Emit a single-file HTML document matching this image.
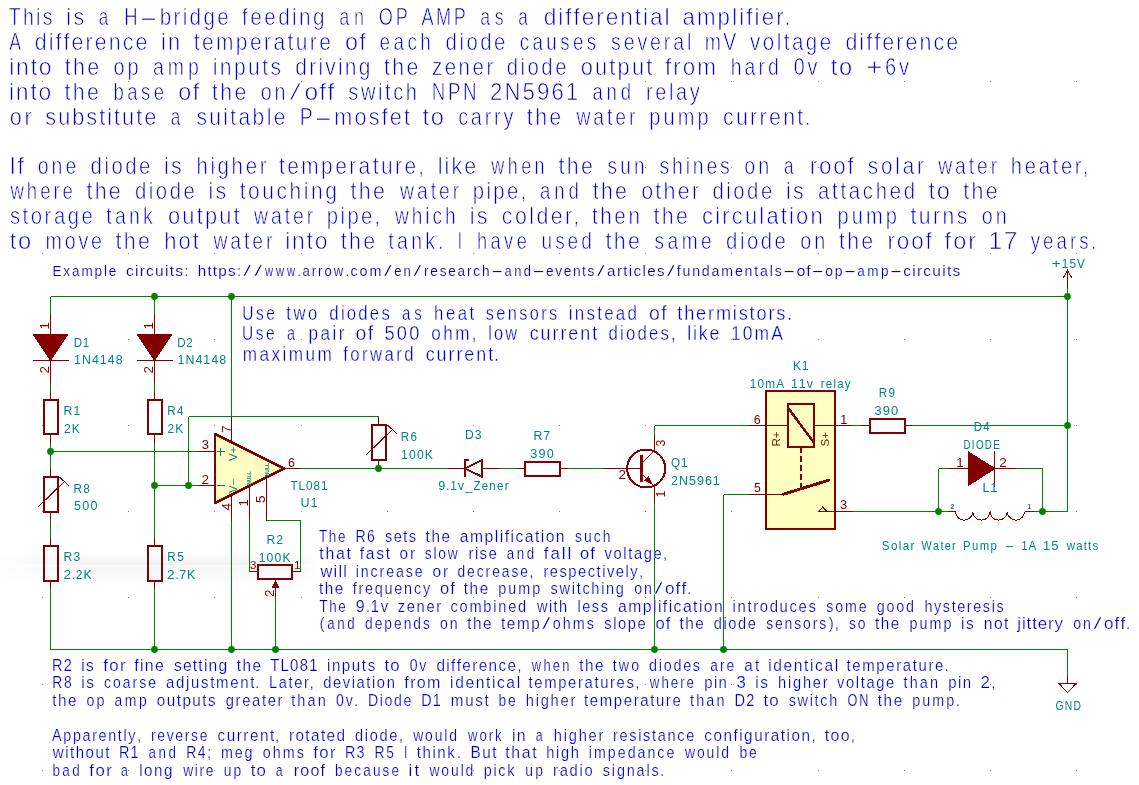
<!DOCTYPE html>
<html><head><meta charset="utf-8"><title>Solar pump differential controller</title>
<style>
html,body{margin:0;padding:0;background:#fff;}
body{width:1139px;height:785px;overflow:hidden;position:relative;font-family:"Liberation Sans",sans-serif;}
svg{will-change:transform;position:absolute;left:0;top:0;display:block}
svg text{font-family:"Liberation Sans",sans-serif;font-kerning:none;white-space:pre;stroke:#fff;paint-order:fill stroke;}
.w{stroke:#008400;stroke-width:1;fill:none;shape-rendering:crispEdges}
.p{stroke:#840000;stroke-width:1;fill:none;shape-rendering:crispEdges}
.j{fill:#008400;stroke:none}
</style></head><body>
<svg width="1139" height="785" viewBox="0 0 1139 785">
<path d="M42 81h1v1h-1zM42 167h1v1h-1zM42 253h1v1h-1zM42 339h1v1h-1zM42 425h1v1h-1zM42 511h1v1h-1zM42 597h1v1h-1zM42 684h1v1h-1zM42 770h1v1h-1zM128 81h1v1h-1zM128 167h1v1h-1zM128 253h1v1h-1zM128 339h1v1h-1zM128 425h1v1h-1zM128 511h1v1h-1zM128 597h1v1h-1zM128 684h1v1h-1zM128 770h1v1h-1zM214 81h1v1h-1zM214 167h1v1h-1zM214 253h1v1h-1zM214 339h1v1h-1zM214 425h1v1h-1zM214 511h1v1h-1zM214 597h1v1h-1zM214 684h1v1h-1zM214 770h1v1h-1zM301 81h1v1h-1zM301 167h1v1h-1zM301 253h1v1h-1zM301 339h1v1h-1zM301 425h1v1h-1zM301 511h1v1h-1zM301 597h1v1h-1zM301 684h1v1h-1zM301 770h1v1h-1zM387 81h1v1h-1zM387 167h1v1h-1zM387 253h1v1h-1zM387 339h1v1h-1zM387 425h1v1h-1zM387 511h1v1h-1zM387 597h1v1h-1zM387 684h1v1h-1zM387 770h1v1h-1zM473 81h1v1h-1zM473 167h1v1h-1zM473 253h1v1h-1zM473 339h1v1h-1zM473 425h1v1h-1zM473 511h1v1h-1zM473 597h1v1h-1zM473 684h1v1h-1zM473 770h1v1h-1zM559 81h1v1h-1zM559 167h1v1h-1zM559 253h1v1h-1zM559 339h1v1h-1zM559 425h1v1h-1zM559 511h1v1h-1zM559 597h1v1h-1zM559 684h1v1h-1zM559 770h1v1h-1zM645 81h1v1h-1zM645 167h1v1h-1zM645 253h1v1h-1zM645 339h1v1h-1zM645 425h1v1h-1zM645 511h1v1h-1zM645 597h1v1h-1zM645 684h1v1h-1zM645 770h1v1h-1zM731 81h1v1h-1zM731 167h1v1h-1zM731 253h1v1h-1zM731 339h1v1h-1zM731 425h1v1h-1zM731 511h1v1h-1zM731 597h1v1h-1zM731 684h1v1h-1zM731 770h1v1h-1zM818 81h1v1h-1zM818 167h1v1h-1zM818 253h1v1h-1zM818 339h1v1h-1zM818 425h1v1h-1zM818 511h1v1h-1zM818 597h1v1h-1zM818 684h1v1h-1zM818 770h1v1h-1zM904 81h1v1h-1zM904 167h1v1h-1zM904 253h1v1h-1zM904 339h1v1h-1zM904 425h1v1h-1zM904 511h1v1h-1zM904 597h1v1h-1zM904 684h1v1h-1zM904 770h1v1h-1zM990 81h1v1h-1zM990 167h1v1h-1zM990 253h1v1h-1zM990 339h1v1h-1zM990 425h1v1h-1zM990 511h1v1h-1zM990 597h1v1h-1zM990 684h1v1h-1zM990 770h1v1h-1zM1076 81h1v1h-1zM1076 167h1v1h-1zM1076 253h1v1h-1zM1076 339h1v1h-1zM1076 425h1v1h-1zM1076 511h1v1h-1zM1076 597h1v1h-1zM1076 684h1v1h-1zM1076 770h1v1h-1z" fill="#848484" shape-rendering="crispEdges"/>
<defs><linearGradient id="bd" x1="0" y1="0" x2="0" y2="1"><stop offset="0" stop-color="#000" stop-opacity="0"/><stop offset=".42" stop-color="#000" stop-opacity=".05"/><stop offset=".43" stop-color="#000" stop-opacity=".01"/><stop offset=".5" stop-color="#000" stop-opacity=".035"/><stop offset="1" stop-color="#000" stop-opacity="0"/></linearGradient><linearGradient id="bm" x1="0" y1="0" x2="1" y2="0"><stop offset="0" stop-color="#fff" stop-opacity="0.15"/><stop offset=".3" stop-color="#fff" stop-opacity="1"/><stop offset=".9" stop-color="#fff" stop-opacity="1"/><stop offset="1" stop-color="#fff" stop-opacity="0"/></linearGradient><mask id="mk"><rect x="0" y="540" width="320" height="60" fill="url(#bm)"/></mask></defs>
<rect x="0" y="551" width="320" height="33" fill="url(#bd)" mask="url(#mk)"/>
<path d="M215 434L284 468.5L215 503Z" fill="#FFFFC2"/>
<rect x="766" y="391" width="69" height="138" fill="#FFFFC2"/>
<path class="w" d="M50.5 296.5L1067.5 296.5M50.5 649.5L1067.5 649.5M50.5 296.5L50.5 313.5M50.5 382.5L50.5 390.5M50.5 442.5L50.5 468.5M50.5 520.5L50.5 537.5M50.5 588.5L50.5 649.5M50.5 451.5L197.5 451.5M154.5 296.5L154.5 313.5M154.5 382.5L154.5 390.5M154.5 442.5L154.5 537.5M154.5 588.5L154.5 649.5M154.5 485.5L197.5 485.5M188.5 485.5L188.5 416.5M188.5 416.5L378.5 416.5M231.5 296.5L231.5 416.5M231.5 520.5L231.5 649.5M249.5 520.5L249.5 571.5M266.5 520.5L300.5 520.5M300.5 520.5L300.5 571.5M275.5 597.0L275.5 649.5M300.5 468.5L447.5 468.5M499.5 468.5L516.5 468.5M567.5 468.5L602.5 468.5M654.5 433.5L654.5 425.5M654.5 425.5L748.5 425.5M654.5 502.5L654.5 649.5M723.5 494.5L748.5 494.5M723.5 494.5L723.5 649.5M852.5 425.5L860.5 425.5M912.5 425.5L1067.5 425.5M1067.5 287.5L1067.5 511.5M852.5 511.5L947.5 511.5M1033.5 511.5L1067.5 511.5M938.5 468.5L938.5 511.5M938.5 468.5L947.5 468.5M1016.5 468.5L1042.5 468.5M1042.5 468.5L1042.5 511.5M1067.5 649.5L1067.5 675.5"/>
<path class="p" d="M50.5 313.5L50.5 334.0M50.5 360.0L50.5 382.5M50.5 390.5L50.5 399.5M50.5 433.5L50.5 442.5M50.5 537.5L50.5 545.5M50.5 580.5L50.5 588.5M154.5 313.5L154.5 334.0M154.5 360.0L154.5 382.5M154.5 390.5L154.5 399.5M154.5 433.5L154.5 442.5M154.5 537.5L154.5 545.5M154.5 580.5L154.5 588.5M50.5 468.5L50.5 476.5M50.5 511.5L50.5 520.5M378.5 416.5L378.5 425.5M378.5 459.5L378.5 468.5M197.5 451.5L214.5 451.5M197.5 485.5L214.5 485.5M283.5 468.5L300.5 468.5M231.5 416.5L231.5 442.0M231.5 495.0L231.5 520.5M249.5 486.0L249.5 520.5M266.5 477.5L266.5 520.5M249.5 571.5L258.0 571.5M292.0 571.5L300.5 571.5M275.5 587.0L275.5 597.0M447.5 468.5L464.5 468.5M481.5 468.5L499.5 468.5M516.5 468.5L524.5 468.5M559.5 468.5L567.5 468.5M860.5 425.5L869.5 425.5M904.5 425.5L912.5 425.5M602.5 468.5L641.0 468.5M654.5 433.5L654.5 450.5M654.5 486.5L654.5 502.5M748.5 425.5L788.0 425.5M814.0 425.5L852.5 425.5M748.5 494.5L783.5 494.5M817.5 511.5L852.5 511.5M947.5 468.5L968.0 468.5M995.0 468.5L1016.5 468.5M947.5 511.5L955.5 511.5M1024.5 511.5L1033.5 511.5M1067.5 270.5L1067.5 287.5M1067.5 675.5L1067.5 683.5"/>
<g shape-rendering="crispEdges">
<path d="M33.0 334H68.0L50.5 360.5Z" fill="#840000" stroke="#840000" stroke-width="1"/>
<path class="p" d="M32.5 360.5H69.0"/>
<rect x="43.5" y="399.5" width="14" height="34.0" fill="none" stroke="#840000" stroke-width="2" shape-rendering="crispEdges"/>
<rect x="43.5" y="545.5" width="14" height="35.0" fill="none" stroke="#840000" stroke-width="2" shape-rendering="crispEdges"/>
<path d="M137.0 334H172.0L154.5 360.5Z" fill="#840000" stroke="#840000" stroke-width="1"/>
<path class="p" d="M136.5 360.5H173.0"/>
<rect x="147.5" y="399.5" width="14" height="34.0" fill="none" stroke="#840000" stroke-width="2" shape-rendering="crispEdges"/>
<rect x="147.5" y="545.5" width="14" height="35.0" fill="none" stroke="#840000" stroke-width="2" shape-rendering="crispEdges"/>
<rect x="43.5" y="476.5" width="14" height="35.0" fill="none" stroke="#840000" stroke-width="2" shape-rendering="crispEdges"/>
<path d="M38 507L64 482M59.2 477L69 485.7" stroke="#840000" stroke-width="1" fill="none"/>
<rect x="371.5" y="425.0" width="14" height="35.0" fill="none" stroke="#840000" stroke-width="2" shape-rendering="crispEdges"/>
<path d="M366.0 455.0L392.0 430.0M387.2 425.0L397.0 433.7" stroke="#840000" stroke-width="1" fill="none"/>
<rect x="524.5" y="461.5" width="35.0" height="14" fill="none" stroke="#840000" stroke-width="2" shape-rendering="crispEdges"/>
<rect x="869.5" y="418.5" width="35.0" height="14" fill="none" stroke="#840000" stroke-width="2" shape-rendering="crispEdges"/>
<rect x="258" y="565" width="34" height="14" fill="none" stroke="#840000" stroke-width="2" shape-rendering="crispEdges"/>
<path d="M275.5 580.3L279.3 587.5H271.7Z" fill="#840000"/>
<path d="M215 434L284 468.5L215 503Z" fill="none" stroke="#840000" stroke-width="2.6" stroke-linejoin="round"/><path d="M215 434V503" fill="none" stroke="#840000" stroke-width="2"/>
<path d="M465.2 468.5L482.3 460.0V477.0Z" fill="none" stroke="#840000" stroke-width="2" stroke-linejoin="miter"/>
<path d="M465.2 477.3V460.0H469.0" fill="none" stroke="#840000" stroke-width="2"/>
<circle cx="646.2" cy="468.5" r="19" fill="none" stroke="#840000" stroke-width="2"/>
<path d="M641.6 454.5V481.5" stroke="#840000" stroke-width="3" fill="none"/>
<path d="M642.5 462.5L654.5 450.5M642.5 474.5L654.5 486.5" stroke="#840000" stroke-width="1" fill="none"/>
<path d="M651.6 483.6L644.9 480.5L648.5 476.9Z" fill="#840000" stroke="#840000" stroke-width="1" stroke-linejoin="round"/>
<rect x="766.0" y="391.0" width="69.0" height="138.0" fill="none" stroke="#840000" stroke-width="2" shape-rendering="crispEdges"/>
<rect x="788" y="404" width="26" height="43" fill="none" stroke="#840000" stroke-width="2" shape-rendering="crispEdges"/>
<path d="M788.5 408.5L813.5 442" stroke="#840000" stroke-width="2.5" fill="none"/>
<path d="M801 447V487.5" stroke="#840000" stroke-width="2" stroke-dasharray="6.4 2.5" fill="none"/>
<path d="M783.5 494.2L828.6 480.2" stroke="#840000" stroke-width="3" stroke-linecap="round" fill="none"/>
<path d="M818.5 511.5L822.7 507L826.9 511.5Z" stroke="#840000" stroke-width="1" fill="none"/>
<path d="M968.5 452V485.5L994.8 468.5Z" fill="#840000" stroke="#840000" stroke-width="1"/>
<path class="p" d="M994.5 451V486.5"/>
<path d="M955.5 511.5a8.62 8.62 0 0 0 17.25 0a8.62 8.62 0 0 0 17.25 0a8.62 8.62 0 0 0 17.25 0a8.62 8.62 0 0 0 17.25 0" stroke="#840000" stroke-width="1" fill="none"/>
<path d="M1062.9 278.5L1067.5 270.5L1072.1 278.5" stroke="#840000" stroke-width="1" fill="none"/>
<path d="M1058.9 683.5H1076.1L1067.5 692.5Z" stroke="#840000" stroke-width="1" fill="none"/>
</g>
<g class="j"><circle cx="50.5" cy="451.5" r="3.4"/><circle cx="154.5" cy="296.5" r="3.4"/><circle cx="154.5" cy="485.5" r="3.4"/><circle cx="154.5" cy="649.5" r="3.4"/><circle cx="188.5" cy="485.5" r="3.4"/><circle cx="231.5" cy="296.5" r="3.4"/><circle cx="231.5" cy="649.5" r="3.4"/><circle cx="275.5" cy="649.5" r="3.4"/><circle cx="378.5" cy="468.5" r="3.4"/><circle cx="654.5" cy="649.5" r="3.4"/><circle cx="723.5" cy="649.5" r="3.4"/><circle cx="1067.5" cy="425.5" r="3.4"/><circle cx="1067.5" cy="296.5" r="3.4"/><circle cx="938.5" cy="511.5" r="3.4"/><circle cx="1042.5" cy="511.5" r="3.4"/></g>
<text transform="translate(49.0 329.5) rotate(-90)" font-size="13.4" fill="#840000" stroke-width="0.00" text-anchor="start">1</text>
<text transform="translate(49.0 373.5) rotate(-90)" font-size="13.4" fill="#840000" stroke-width="0.00" text-anchor="start">2</text>
<text transform="translate(153.0 329.5) rotate(-90)" font-size="13.4" fill="#840000" stroke-width="0.00" text-anchor="start">1</text>
<text transform="translate(153.0 373.5) rotate(-90)" font-size="13.4" fill="#840000" stroke-width="0.00" text-anchor="start">2</text>
<text transform="translate(230.5 433.0) rotate(-90)" font-size="13.4" fill="#840000" stroke-width="0.00" text-anchor="start">7</text>
<text transform="translate(230.5 510.5) rotate(-90)" font-size="13.4" fill="#840000" stroke-width="0.00" text-anchor="start">4</text>
<text transform="translate(248.0 506.5) rotate(-90)" font-size="13.4" fill="#840000" stroke-width="0.00" text-anchor="start">1</text>
<text transform="translate(265.0 503.0) rotate(-90)" font-size="13.4" fill="#840000" stroke-width="0.00" text-anchor="start">5</text>
<text transform="translate(665.3 446.5) rotate(-90)" font-size="12.2" fill="#840000" stroke-width="0.00" text-anchor="start">3</text>
<text transform="translate(665.3 497.5) rotate(-90)" font-size="12.2" fill="#840000" stroke-width="0.00" text-anchor="start">1</text>
<text transform="translate(273.5 597.0) rotate(-90)" font-size="13.4" fill="#840000" stroke-width="0.00" text-anchor="start">2</text>
<text transform="translate(780.0 446.5) rotate(-90)" font-size="11.6" fill="#840000" stroke-width="0.00" text-anchor="start">R+</text>
<text transform="translate(829.0 446.5) rotate(-90)" font-size="11.6" fill="#840000" stroke-width="0.00" text-anchor="start">S+</text>
<path d="M216.5 451.5h8M220.5 447.5v8M216.5 485.5h8" stroke="#008484" stroke-width="1" fill="none" shape-rendering="crispEdges"/>
<text transform="translate(236.5 461.0) rotate(-90)" font-size="11.5" fill="#008484" stroke-width="0.00" text-anchor="start">V+</text>
<text transform="translate(236.5 493.0) rotate(-90)" font-size="11.5" fill="#008484" stroke-width="0.00" text-anchor="start">V−</text>
<text transform="translate(251.0 484.8) rotate(-90)" font-size="5.0" fill="#008484" stroke-width="0.00" text-anchor="start" font-weight="bold">NULL</text>
<text transform="translate(268.8 476.3) rotate(-90)" font-size="5.0" fill="#008484" stroke-width="0.00" text-anchor="start" font-weight="bold">NULL</text>
<text x="950.5" y="509" font-size="6.5" font-weight="bold" fill="#008484" stroke-width="0">2</text><text x="1027.5" y="509" font-size="6.5" font-weight="bold" fill="#008484" stroke-width="0">1</text>
<text y="25.31" font-size="23.40" fill="#0000C2" stroke-width="0.62"><tspan x="8.68" textLength="46.02" lengthAdjust="spacingAndGlyphs" style="letter-spacing:2.72px">This</tspan> <tspan x="66.36" textLength="19.98" lengthAdjust="spacingAndGlyphs" style="letter-spacing:2.48px">is</tspan> <tspan x="98.67" textLength="9.52" lengthAdjust="spacingAndGlyphs" style="letter-spacing:0.00px">a</tspan> <tspan x="124.28" textLength="13.31" lengthAdjust="spacingAndGlyphs" style="letter-spacing:0.00px">H</tspan><tspan x="138.80" textLength="19.49" lengthAdjust="spacingAndGlyphs" style="letter-spacing:0.00px">-</tspan><tspan x="159.65" textLength="71.44" lengthAdjust="spacingAndGlyphs" style="letter-spacing:2.66px">bridge</tspan> <tspan x="242.12" textLength="84.83" lengthAdjust="spacingAndGlyphs" style="letter-spacing:2.74px">feeding</tspan> <tspan x="339.27" textLength="29.35" lengthAdjust="spacingAndGlyphs" style="letter-spacing:6.06px">an</tspan> <tspan x="378.79" textLength="31.74" lengthAdjust="spacingAndGlyphs" style="letter-spacing:3.57px">OP</tspan> <tspan x="421.44" textLength="46.80" lengthAdjust="spacingAndGlyphs" style="letter-spacing:3.24px">AMP</tspan> <tspan x="480.15" textLength="28.05" lengthAdjust="spacingAndGlyphs" style="letter-spacing:6.10px">as</tspan> <tspan x="518.34" textLength="9.52" lengthAdjust="spacingAndGlyphs" style="letter-spacing:0.00px">a</tspan> <tspan x="543.72" textLength="127.79" lengthAdjust="spacingAndGlyphs" style="letter-spacing:1.98px">differential</tspan> <tspan x="682.40" textLength="103.34" lengthAdjust="spacingAndGlyphs" style="letter-spacing:2.22px">amplifier</tspan><tspan x="784.82" textLength="5.53" lengthAdjust="spacingAndGlyphs" style="letter-spacing:0.00px">.</tspan></text>
<text y="50.31" font-size="23.40" fill="#0000C2" stroke-width="0.62"><tspan x="9.15" textLength="11.81" lengthAdjust="spacingAndGlyphs" style="letter-spacing:0.00px">A</tspan> <tspan x="34.65" textLength="114.83" lengthAdjust="spacingAndGlyphs" style="letter-spacing:2.29px">difference</tspan> <tspan x="161.01" textLength="21.23" lengthAdjust="spacingAndGlyphs" style="letter-spacing:2.23px">in</tspan> <tspan x="193.72" textLength="139.51" lengthAdjust="spacingAndGlyphs" style="letter-spacing:2.74px">temperature</tspan> <tspan x="344.90" textLength="22.38" lengthAdjust="spacingAndGlyphs" style="letter-spacing:1.48px">of</tspan> <tspan x="379.62" textLength="54.66" lengthAdjust="spacingAndGlyphs" style="letter-spacing:4.28px">each</tspan> <tspan x="445.58" textLength="62.29" lengthAdjust="spacingAndGlyphs" style="letter-spacing:2.88px">diode</tspan> <tspan x="519.76" textLength="79.73" lengthAdjust="spacingAndGlyphs" style="letter-spacing:4.24px">causes</tspan> <tspan x="610.98" textLength="83.30" lengthAdjust="spacingAndGlyphs" style="letter-spacing:3.46px">several</tspan> <tspan x="704.87" textLength="33.76" lengthAdjust="spacingAndGlyphs" style="letter-spacing:2.70px">mV</tspan> <tspan x="750.10" textLength="83.50" lengthAdjust="spacingAndGlyphs" style="letter-spacing:2.81px">voltage</tspan> <tspan x="845.38" textLength="114.83" lengthAdjust="spacingAndGlyphs" style="letter-spacing:2.29px">difference</tspan></text>
<text y="75.31" font-size="23.40" fill="#0000C2" stroke-width="0.62"><tspan x="9.28" textLength="44.02" lengthAdjust="spacingAndGlyphs" style="letter-spacing:1.80px">into</tspan> <tspan x="64.80" textLength="36.72" lengthAdjust="spacingAndGlyphs" style="letter-spacing:2.56px">the</tspan> <tspan x="113.46" textLength="28.16" lengthAdjust="spacingAndGlyphs" style="letter-spacing:3.43px">op</tspan> <tspan x="153.10" textLength="49.62" lengthAdjust="spacingAndGlyphs" style="letter-spacing:4.69px">amp</tspan> <tspan x="212.66" textLength="70.70" lengthAdjust="spacingAndGlyphs" style="letter-spacing:2.67px">inputs</tspan> <tspan x="295.37" textLength="77.19" lengthAdjust="spacingAndGlyphs" style="letter-spacing:2.51px">driving</tspan> <tspan x="383.96" textLength="36.72" lengthAdjust="spacingAndGlyphs" style="letter-spacing:2.56px">the</tspan> <tspan x="431.88" textLength="63.94" lengthAdjust="spacingAndGlyphs" style="letter-spacing:2.89px">zener</tspan> <tspan x="506.70" textLength="62.29" lengthAdjust="spacingAndGlyphs" style="letter-spacing:2.88px">diode</tspan> <tspan x="580.72" textLength="73.81" lengthAdjust="spacingAndGlyphs" style="letter-spacing:2.34px">output</tspan> <tspan x="664.95" textLength="53.13" lengthAdjust="spacingAndGlyphs" style="letter-spacing:2.13px">from</tspan> <tspan x="730.73" textLength="51.23" lengthAdjust="spacingAndGlyphs" style="letter-spacing:3.73px">hard</tspan> <tspan x="793.66" textLength="26.41" lengthAdjust="spacingAndGlyphs" style="letter-spacing:3.28px">0v</tspan> <tspan x="830.71" textLength="22.93" lengthAdjust="spacingAndGlyphs" style="letter-spacing:1.59px">to</tspan> <tspan x="866.34" textLength="16.20" lengthAdjust="spacingAndGlyphs" style="letter-spacing:0.00px">+</tspan><tspan x="885.12" textLength="26.55" lengthAdjust="spacingAndGlyphs" style="letter-spacing:3.08px">6v</tspan></text>
<text y="100.31" font-size="23.40" fill="#0000C2" stroke-width="0.62"><tspan x="9.03" textLength="44.02" lengthAdjust="spacingAndGlyphs" style="letter-spacing:1.80px">into</tspan> <tspan x="64.55" textLength="36.72" lengthAdjust="spacingAndGlyphs" style="letter-spacing:2.56px">the</tspan> <tspan x="113.61" textLength="53.91" lengthAdjust="spacingAndGlyphs" style="letter-spacing:4.36px">base</tspan> <tspan x="178.33" textLength="22.38" lengthAdjust="spacingAndGlyphs" style="letter-spacing:1.48px">of</tspan> <tspan x="212.02" textLength="36.72" lengthAdjust="spacingAndGlyphs" style="letter-spacing:2.56px">the</tspan> <tspan x="260.70" textLength="27.85" lengthAdjust="spacingAndGlyphs" style="letter-spacing:3.48px">on</tspan><tspan x="289.13" textLength="12.35" lengthAdjust="spacingAndGlyphs" stroke-width="1.02" style="letter-spacing:0.00px">/</tspan><tspan x="304.45" textLength="31.03" lengthAdjust="spacingAndGlyphs" style="letter-spacing:1.18px">off</tspan> <tspan x="348.27" textLength="71.28" lengthAdjust="spacingAndGlyphs" style="letter-spacing:3.01px">switch</tspan> <tspan x="431.69" textLength="47.59" lengthAdjust="spacingAndGlyphs" style="letter-spacing:3.35px">NPN</tspan> <tspan x="490.02" textLength="90.25" lengthAdjust="spacingAndGlyphs" style="letter-spacing:2.20px">2N5961</tspan> <tspan x="592.38" textLength="42.56" lengthAdjust="spacingAndGlyphs" style="letter-spacing:4.88px">and</tspan> <tspan x="646.12" textLength="56.08" lengthAdjust="spacingAndGlyphs" style="letter-spacing:3.00px">relay</tspan></text>
<text y="125.31" font-size="23.40" fill="#0000C2" stroke-width="0.62"><tspan x="9.76" textLength="24.60" lengthAdjust="spacingAndGlyphs" style="letter-spacing:2.91px">or</tspan> <tspan x="45.28" textLength="113.00" lengthAdjust="spacingAndGlyphs" style="letter-spacing:2.16px">substitute</tspan> <tspan x="170.68" textLength="9.52" lengthAdjust="spacingAndGlyphs" style="letter-spacing:0.00px">a</tspan> <tspan x="196.45" textLength="91.28" lengthAdjust="spacingAndGlyphs" style="letter-spacing:2.63px">suitable</tspan> <tspan x="299.65" textLength="12.93" lengthAdjust="spacingAndGlyphs" style="letter-spacing:0.00px">P</tspan><tspan x="313.53" textLength="19.49" lengthAdjust="spacingAndGlyphs" style="letter-spacing:0.00px">-</tspan><tspan x="334.25" textLength="77.94" lengthAdjust="spacingAndGlyphs" style="letter-spacing:2.30px">mosfet</tspan> <tspan x="422.62" textLength="22.93" lengthAdjust="spacingAndGlyphs" style="letter-spacing:1.59px">to</tspan> <tspan x="458.14" textLength="58.03" lengthAdjust="spacingAndGlyphs" style="letter-spacing:3.31px">carry</tspan> <tspan x="526.87" textLength="36.72" lengthAdjust="spacingAndGlyphs" style="letter-spacing:2.56px">the</tspan> <tspan x="576.40" textLength="61.98" lengthAdjust="spacingAndGlyphs" style="letter-spacing:3.57px">water</tspan> <tspan x="649.18" textLength="62.51" lengthAdjust="spacingAndGlyphs" style="letter-spacing:3.60px">pump</tspan> <tspan x="722.91" textLength="82.72" lengthAdjust="spacingAndGlyphs" style="letter-spacing:2.54px">current</tspan><tspan x="804.75" textLength="5.53" lengthAdjust="spacingAndGlyphs" style="letter-spacing:0.00px">.</tspan></text>
<text y="174.31" font-size="23.40" fill="#0000C2" stroke-width="0.62"><tspan x="9.15" textLength="16.12" lengthAdjust="spacingAndGlyphs" style="letter-spacing:1.18px">If</tspan> <tspan x="37.81" textLength="41.40" lengthAdjust="spacingAndGlyphs" style="letter-spacing:3.60px">one</tspan> <tspan x="90.59" textLength="62.29" lengthAdjust="spacingAndGlyphs" style="letter-spacing:2.88px">diode</tspan> <tspan x="164.10" textLength="19.98" lengthAdjust="spacingAndGlyphs" style="letter-spacing:2.48px">is</tspan> <tspan x="196.41" textLength="72.70" lengthAdjust="spacingAndGlyphs" style="letter-spacing:3.01px">higher</tspan> <tspan x="278.94" textLength="139.51" lengthAdjust="spacingAndGlyphs" style="letter-spacing:2.74px">temperature</tspan><tspan x="418.14" textLength="5.53" lengthAdjust="spacingAndGlyphs" style="letter-spacing:0.00px">,</tspan> <tspan x="437.75" textLength="40.54" lengthAdjust="spacingAndGlyphs" style="letter-spacing:2.28px">like</tspan> <tspan x="491.36" textLength="56.66" lengthAdjust="spacingAndGlyphs" style="letter-spacing:4.45px">when</tspan> <tspan x="558.46" textLength="36.72" lengthAdjust="spacingAndGlyphs" style="letter-spacing:2.56px">the</tspan> <tspan x="607.45" textLength="40.26" lengthAdjust="spacingAndGlyphs" style="letter-spacing:4.03px">sun</tspan> <tspan x="659.52" textLength="73.06" lengthAdjust="spacingAndGlyphs" style="letter-spacing:3.36px">shines</tspan> <tspan x="744.34" textLength="27.85" lengthAdjust="spacingAndGlyphs" style="letter-spacing:3.48px">on</tspan> <tspan x="784.09" textLength="9.52" lengthAdjust="spacingAndGlyphs" style="letter-spacing:0.00px">a</tspan> <tspan x="809.67" textLength="45.95" lengthAdjust="spacingAndGlyphs" style="letter-spacing:1.88px">roof</tspan> <tspan x="867.84" textLength="58.84" lengthAdjust="spacingAndGlyphs" style="letter-spacing:3.19px">solar</tspan> <tspan x="938.16" textLength="61.98" lengthAdjust="spacingAndGlyphs" style="letter-spacing:3.57px">water</tspan> <tspan x="1010.82" textLength="73.46" lengthAdjust="spacingAndGlyphs" style="letter-spacing:3.11px">heater</tspan><tspan x="1082.86" textLength="5.53" lengthAdjust="spacingAndGlyphs" style="letter-spacing:0.00px">,</tspan></text>
<text y="199.31" font-size="23.40" fill="#0000C2" stroke-width="0.62"><tspan x="10.48" textLength="65.41" lengthAdjust="spacingAndGlyphs" style="letter-spacing:3.73px">where</tspan> <tspan x="86.39" textLength="36.72" lengthAdjust="spacingAndGlyphs" style="letter-spacing:2.56px">the</tspan> <tspan x="135.03" textLength="62.29" lengthAdjust="spacingAndGlyphs" style="letter-spacing:2.88px">diode</tspan> <tspan x="208.54" textLength="19.98" lengthAdjust="spacingAndGlyphs" style="letter-spacing:2.48px">is</tspan> <tspan x="239.74" textLength="99.67" lengthAdjust="spacingAndGlyphs" style="letter-spacing:2.82px">touching</tspan> <tspan x="350.52" textLength="36.72" lengthAdjust="spacingAndGlyphs" style="letter-spacing:2.56px">the</tspan> <tspan x="400.06" textLength="61.98" lengthAdjust="spacingAndGlyphs" style="letter-spacing:3.57px">water</tspan> <tspan x="472.81" textLength="47.94" lengthAdjust="spacingAndGlyphs" style="letter-spacing:2.73px">pipe</tspan><tspan x="520.55" textLength="5.53" lengthAdjust="spacingAndGlyphs" style="letter-spacing:0.00px">,</tspan> <tspan x="540.12" textLength="42.56" lengthAdjust="spacingAndGlyphs" style="letter-spacing:4.88px">and</tspan> <tspan x="592.64" textLength="36.72" lengthAdjust="spacingAndGlyphs" style="letter-spacing:2.56px">the</tspan> <tspan x="641.21" textLength="60.08" lengthAdjust="spacingAndGlyphs" style="letter-spacing:2.43px">other</tspan> <tspan x="712.44" textLength="62.29" lengthAdjust="spacingAndGlyphs" style="letter-spacing:2.88px">diode</tspan> <tspan x="785.96" textLength="19.98" lengthAdjust="spacingAndGlyphs" style="letter-spacing:2.48px">is</tspan> <tspan x="818.09" textLength="99.59" lengthAdjust="spacingAndGlyphs" style="letter-spacing:3.10px">attached</tspan> <tspan x="928.60" textLength="22.93" lengthAdjust="spacingAndGlyphs" style="letter-spacing:1.59px">to</tspan> <tspan x="963.15" textLength="36.72" lengthAdjust="spacingAndGlyphs" style="letter-spacing:2.56px">the</tspan></text>
<text y="224.31" font-size="23.40" fill="#0000C2" stroke-width="0.62"><tspan x="9.91" textLength="85.53" lengthAdjust="spacingAndGlyphs" style="letter-spacing:2.95px">storage</tspan> <tspan x="106.30" textLength="49.76" lengthAdjust="spacingAndGlyphs" style="letter-spacing:3.87px">tank</tspan> <tspan x="168.01" textLength="73.81" lengthAdjust="spacingAndGlyphs" style="letter-spacing:2.34px">output</tspan> <tspan x="254.10" textLength="61.98" lengthAdjust="spacingAndGlyphs" style="letter-spacing:3.57px">water</tspan> <tspan x="326.85" textLength="47.94" lengthAdjust="spacingAndGlyphs" style="letter-spacing:2.73px">pipe</tspan><tspan x="374.59" textLength="5.53" lengthAdjust="spacingAndGlyphs" style="letter-spacing:0.00px">,</tspan> <tspan x="394.97" textLength="63.66" lengthAdjust="spacingAndGlyphs" style="letter-spacing:3.67px">which</tspan> <tspan x="469.79" textLength="19.98" lengthAdjust="spacingAndGlyphs" style="letter-spacing:2.48px">is</tspan> <tspan x="501.86" textLength="72.77" lengthAdjust="spacingAndGlyphs" style="letter-spacing:2.68px">colder</tspan><tspan x="573.42" textLength="5.53" lengthAdjust="spacingAndGlyphs" style="letter-spacing:0.00px">,</tspan> <tspan x="591.97" textLength="50.49" lengthAdjust="spacingAndGlyphs" style="letter-spacing:2.85px">then</tspan> <tspan x="653.58" textLength="36.72" lengthAdjust="spacingAndGlyphs" style="letter-spacing:2.56px">the</tspan> <tspan x="702.12" textLength="122.77" lengthAdjust="spacingAndGlyphs" style="letter-spacing:2.32px">circulation</tspan> <tspan x="837.52" textLength="62.51" lengthAdjust="spacingAndGlyphs" style="letter-spacing:3.60px">pump</tspan> <tspan x="910.38" textLength="59.42" lengthAdjust="spacingAndGlyphs" style="letter-spacing:2.74px">turns</tspan> <tspan x="981.79" textLength="27.85" lengthAdjust="spacingAndGlyphs" style="letter-spacing:3.48px">on</tspan></text>
<text y="249.31" font-size="23.40" fill="#0000C2" stroke-width="0.62"><tspan x="9.75" textLength="22.93" lengthAdjust="spacingAndGlyphs" style="letter-spacing:1.59px">to</tspan> <tspan x="45.54" textLength="59.33" lengthAdjust="spacingAndGlyphs" style="letter-spacing:3.32px">move</tspan> <tspan x="115.47" textLength="36.72" lengthAdjust="spacingAndGlyphs" style="letter-spacing:2.56px">the</tspan> <tspan x="164.15" textLength="36.93" lengthAdjust="spacingAndGlyphs" style="letter-spacing:2.25px">hot</tspan> <tspan x="213.43" textLength="61.98" lengthAdjust="spacingAndGlyphs" style="letter-spacing:3.57px">water</tspan> <tspan x="285.18" textLength="44.02" lengthAdjust="spacingAndGlyphs" style="letter-spacing:1.80px">into</tspan> <tspan x="340.71" textLength="36.72" lengthAdjust="spacingAndGlyphs" style="letter-spacing:2.56px">the</tspan> <tspan x="388.45" textLength="49.76" lengthAdjust="spacingAndGlyphs" style="letter-spacing:3.87px">tank</tspan><tspan x="438.10" textLength="5.53" lengthAdjust="spacingAndGlyphs" style="letter-spacing:0.00px">.</tspan> <tspan x="457.86" textLength="4.16" lengthAdjust="spacingAndGlyphs" style="letter-spacing:0.00px">I</tspan> <tspan x="477.01" textLength="53.21" lengthAdjust="spacingAndGlyphs" style="letter-spacing:4.42px">have</tspan> <tspan x="541.59" textLength="53.15" lengthAdjust="spacingAndGlyphs" style="letter-spacing:3.64px">used</tspan> <tspan x="605.57" textLength="36.72" lengthAdjust="spacingAndGlyphs" style="letter-spacing:2.56px">the</tspan> <tspan x="654.55" textLength="60.66" lengthAdjust="spacingAndGlyphs" style="letter-spacing:4.26px">same</tspan> <tspan x="726.11" textLength="62.29" lengthAdjust="spacingAndGlyphs" style="letter-spacing:2.88px">diode</tspan> <tspan x="800.25" textLength="27.85" lengthAdjust="spacingAndGlyphs" style="letter-spacing:3.48px">on</tspan> <tspan x="838.88" textLength="36.72" lengthAdjust="spacingAndGlyphs" style="letter-spacing:2.56px">the</tspan> <tspan x="887.59" textLength="45.95" lengthAdjust="spacingAndGlyphs" style="letter-spacing:1.88px">roof</tspan> <tspan x="944.50" textLength="33.82" lengthAdjust="spacingAndGlyphs" style="letter-spacing:2.12px">for</tspan> <tspan x="988.43" textLength="30.61" lengthAdjust="spacingAndGlyphs" style="letter-spacing:1.56px">17</tspan> <tspan x="1030.69" textLength="61.04" lengthAdjust="spacingAndGlyphs" style="letter-spacing:3.82px">years</tspan><tspan x="1091.08" textLength="5.53" lengthAdjust="spacingAndGlyphs" style="letter-spacing:0.00px">.</tspan></text>
<text y="276.07" font-size="15.50" fill="#0000C2" stroke-width="0.15"><tspan x="52.42" textLength="65.84" lengthAdjust="spacingAndGlyphs" style="letter-spacing:2.13px">Example</tspan> <tspan x="126.03" textLength="58.24" lengthAdjust="spacingAndGlyphs" style="letter-spacing:1.25px">circuits</tspan><tspan x="184.56" textLength="3.66" lengthAdjust="spacingAndGlyphs" style="letter-spacing:0.00px">:</tspan> <tspan x="197.79" textLength="39.01" lengthAdjust="spacingAndGlyphs" style="letter-spacing:1.19px">https</tspan><tspan x="237.18" textLength="3.66" lengthAdjust="spacingAndGlyphs" style="letter-spacing:0.00px">:</tspan><tspan x="242.94" textLength="8.18" lengthAdjust="spacingAndGlyphs" stroke-width="0.41" style="letter-spacing:0.00px">/</tspan><tspan x="253.96" textLength="8.18" lengthAdjust="spacingAndGlyphs" stroke-width="0.41" style="letter-spacing:0.00px">/</tspan><tspan x="265.03" textLength="33.07" lengthAdjust="spacingAndGlyphs" style="letter-spacing:4.08px">www</tspan><tspan x="297.31" textLength="3.66" lengthAdjust="spacingAndGlyphs" style="letter-spacing:0.00px">.</tspan><tspan x="302.53" textLength="42.68" lengthAdjust="spacingAndGlyphs" style="letter-spacing:2.27px">arrow</tspan><tspan x="345.42" textLength="3.66" lengthAdjust="spacingAndGlyphs" style="letter-spacing:0.00px">.</tspan><tspan x="350.58" textLength="32.61" lengthAdjust="spacingAndGlyphs" style="letter-spacing:2.01px">com</tspan><tspan x="383.75" textLength="8.18" lengthAdjust="spacingAndGlyphs" stroke-width="0.41" style="letter-spacing:0.00px">/</tspan><tspan x="394.23" textLength="18.50" lengthAdjust="spacingAndGlyphs" style="letter-spacing:2.26px">en</tspan><tspan x="413.31" textLength="8.18" lengthAdjust="spacingAndGlyphs" stroke-width="0.41" style="letter-spacing:0.00px">/</tspan><tspan x="423.95" textLength="67.36" lengthAdjust="spacingAndGlyphs" style="letter-spacing:2.05px">research</tspan><tspan x="490.68" textLength="12.81" lengthAdjust="spacingAndGlyphs" style="letter-spacing:0.00px">-</tspan><tspan x="504.49" textLength="29.08" lengthAdjust="spacingAndGlyphs" style="letter-spacing:3.03px">and</tspan><tspan x="532.27" textLength="12.81" lengthAdjust="spacingAndGlyphs" style="letter-spacing:0.00px">-</tspan><tspan x="546.04" textLength="49.91" lengthAdjust="spacingAndGlyphs" style="letter-spacing:1.81px">events</tspan><tspan x="596.72" textLength="8.18" lengthAdjust="spacingAndGlyphs" stroke-width="0.41" style="letter-spacing:0.00px">/</tspan><tspan x="607.11" textLength="58.83" lengthAdjust="spacingAndGlyphs" style="letter-spacing:1.41px">articles</tspan><tspan x="666.87" textLength="8.18" lengthAdjust="spacingAndGlyphs" stroke-width="0.41" style="letter-spacing:0.00px">/</tspan><tspan x="676.71" textLength="106.91" lengthAdjust="spacingAndGlyphs" style="letter-spacing:2.00px">fundamentals</tspan><tspan x="782.82" textLength="12.81" lengthAdjust="spacingAndGlyphs" style="letter-spacing:0.00px">-</tspan><tspan x="796.49" textLength="15.28" lengthAdjust="spacingAndGlyphs" style="letter-spacing:0.92px">of</tspan><tspan x="811.38" textLength="12.81" lengthAdjust="spacingAndGlyphs" style="letter-spacing:0.00px">-</tspan><tspan x="825.16" textLength="19.23" lengthAdjust="spacingAndGlyphs" style="letter-spacing:2.12px">op</tspan><tspan x="843.45" textLength="12.81" lengthAdjust="spacingAndGlyphs" style="letter-spacing:0.00px">-</tspan><tspan x="857.24" textLength="33.89" lengthAdjust="spacingAndGlyphs" style="letter-spacing:2.94px">amp</tspan><tspan x="889.56" textLength="12.81" lengthAdjust="spacingAndGlyphs" style="letter-spacing:0.00px">-</tspan><tspan x="903.25" textLength="58.24" lengthAdjust="spacingAndGlyphs" style="letter-spacing:1.25px">circuits</tspan></text>
<text y="320.17" font-size="19.40" fill="#0000C2" stroke-width="0.33"><tspan x="242.16" textLength="35.22" lengthAdjust="spacingAndGlyphs" style="letter-spacing:3.18px">Use</tspan> <tspan x="286.15" textLength="33.79" lengthAdjust="spacingAndGlyphs" style="letter-spacing:3.09px">two</tspan> <tspan x="329.37" textLength="62.61" lengthAdjust="spacingAndGlyphs" style="letter-spacing:2.53px">diodes</tspan> <tspan x="402.04" textLength="23.52" lengthAdjust="spacingAndGlyphs" style="letter-spacing:5.02px">as</tspan> <tspan x="434.10" textLength="42.56" lengthAdjust="spacingAndGlyphs" style="letter-spacing:2.84px">heat</tspan> <tspan x="485.87" textLength="73.56" lengthAdjust="spacingAndGlyphs" style="letter-spacing:2.80px">sensors</tspan> <tspan x="568.84" textLength="70.34" lengthAdjust="spacingAndGlyphs" style="letter-spacing:2.56px">instead</tspan> <tspan x="649.10" textLength="18.76" lengthAdjust="spacingAndGlyphs" style="letter-spacing:1.26px">of</tspan> <tspan x="677.33" textLength="109.84" lengthAdjust="spacingAndGlyphs" style="letter-spacing:1.92px">thermistors</tspan><tspan x="787.30" textLength="4.58" lengthAdjust="spacingAndGlyphs" style="letter-spacing:0.00px">.</tspan></text>
<text y="340.17" font-size="19.40" fill="#0000C2" stroke-width="0.33"><tspan x="242.06" textLength="35.22" lengthAdjust="spacingAndGlyphs" style="letter-spacing:3.18px">Use</tspan> <tspan x="286.94" textLength="8.01" lengthAdjust="spacingAndGlyphs" style="letter-spacing:0.00px">a</tspan> <tspan x="308.56" textLength="38.31" lengthAdjust="spacingAndGlyphs" style="letter-spacing:2.71px">pair</tspan> <tspan x="355.59" textLength="18.76" lengthAdjust="spacingAndGlyphs" style="letter-spacing:1.26px">of</tspan> <tspan x="384.59" textLength="36.90" lengthAdjust="spacingAndGlyphs" style="letter-spacing:2.30px">500</tspan> <tspan x="431.36" textLength="40.68" lengthAdjust="spacingAndGlyphs" style="letter-spacing:2.82px">ohm</tspan><tspan x="471.65" textLength="4.58" lengthAdjust="spacingAndGlyphs" style="letter-spacing:0.00px">,</tspan> <tspan x="488.19" textLength="30.90" lengthAdjust="spacingAndGlyphs" style="letter-spacing:2.50px">low</tspan> <tspan x="529.73" textLength="69.35" lengthAdjust="spacingAndGlyphs" style="letter-spacing:2.12px">current</tspan> <tspan x="608.53" textLength="62.61" lengthAdjust="spacingAndGlyphs" style="letter-spacing:2.53px">diodes</tspan><tspan x="670.95" textLength="4.58" lengthAdjust="spacingAndGlyphs" style="letter-spacing:0.00px">,</tspan> <tspan x="687.37" textLength="33.99" lengthAdjust="spacingAndGlyphs" style="letter-spacing:1.91px">like</tspan> <tspan x="730.93" textLength="53.97" lengthAdjust="spacingAndGlyphs" style="letter-spacing:2.34px">10mA</tspan></text>
<text y="361.17" font-size="19.40" fill="#0000C2" stroke-width="0.33"><tspan x="242.66" textLength="91.50" lengthAdjust="spacingAndGlyphs" style="letter-spacing:2.75px">maximum</tspan> <tspan x="343.21" textLength="72.67" lengthAdjust="spacingAndGlyphs" style="letter-spacing:2.80px">forward</tspan> <tspan x="425.72" textLength="69.35" lengthAdjust="spacingAndGlyphs" style="letter-spacing:2.12px">current</tspan><tspan x="494.35" textLength="4.58" lengthAdjust="spacingAndGlyphs" style="letter-spacing:0.00px">.</tspan></text>
<text y="542.10" font-size="16.20" fill="#0000C2" stroke-width="0.20"><tspan x="318.99" textLength="28.01" lengthAdjust="spacingAndGlyphs" style="letter-spacing:1.97px">The</tspan> <tspan x="355.38" textLength="21.09" lengthAdjust="spacingAndGlyphs" style="letter-spacing:1.86px">R6</tspan> <tspan x="385.08" textLength="32.51" lengthAdjust="spacingAndGlyphs" style="letter-spacing:1.58px">sets</tspan> <tspan x="425.60" textLength="25.88" lengthAdjust="spacingAndGlyphs" style="letter-spacing:1.63px">the</tspan> <tspan x="459.82" textLength="106.24" lengthAdjust="spacingAndGlyphs" style="letter-spacing:1.50px">amplification</tspan> <tspan x="574.95" textLength="37.63" lengthAdjust="spacingAndGlyphs" style="letter-spacing:2.41px">such</tspan></text>
<text y="559.10" font-size="16.20" fill="#0000C2" stroke-width="0.20"><tspan x="319.29" textLength="33.27" lengthAdjust="spacingAndGlyphs" style="letter-spacing:1.76px">that</tspan> <tspan x="359.66" textLength="32.30" lengthAdjust="spacingAndGlyphs" style="letter-spacing:1.88px">fast</tspan> <tspan x="399.58" textLength="17.33" lengthAdjust="spacingAndGlyphs" style="letter-spacing:1.87px">or</tspan> <tspan x="424.68" textLength="34.88" lengthAdjust="spacingAndGlyphs" style="letter-spacing:2.11px">slow</tspan> <tspan x="468.55" textLength="29.52" lengthAdjust="spacingAndGlyphs" style="letter-spacing:1.42px">rise</tspan> <tspan x="506.75" textLength="30.01" lengthAdjust="spacingAndGlyphs" style="letter-spacing:3.16px">and</tspan> <tspan x="543.78" textLength="29.31" lengthAdjust="spacingAndGlyphs" style="letter-spacing:1.80px">fall</tspan> <tspan x="580.06" textLength="15.78" lengthAdjust="spacingAndGlyphs" style="letter-spacing:0.94px">of</tspan> <tspan x="604.51" textLength="58.86" lengthAdjust="spacingAndGlyphs" style="letter-spacing:1.79px">voltage</tspan><tspan x="663.24" textLength="3.83" lengthAdjust="spacingAndGlyphs" style="letter-spacing:0.00px">,</tspan></text>
<text y="577.10" font-size="16.20" fill="#0000C2" stroke-width="0.20"><tspan x="320.42" textLength="27.87" lengthAdjust="spacingAndGlyphs" style="letter-spacing:1.28px">will</tspan> <tspan x="355.67" textLength="68.82" lengthAdjust="spacingAndGlyphs" style="letter-spacing:2.21px">increase</tspan> <tspan x="432.51" textLength="17.33" lengthAdjust="spacingAndGlyphs" style="letter-spacing:1.87px">or</tspan> <tspan x="457.42" textLength="72.62" lengthAdjust="spacingAndGlyphs" style="letter-spacing:2.32px">decrease</tspan><tspan x="529.61" textLength="3.83" lengthAdjust="spacingAndGlyphs" style="letter-spacing:0.00px">,</tspan> <tspan x="543.40" textLength="95.75" lengthAdjust="spacingAndGlyphs" style="letter-spacing:1.63px">respectively</tspan><tspan x="639.28" textLength="3.83" lengthAdjust="spacingAndGlyphs" style="letter-spacing:0.00px">,</tspan></text>
<text y="594.10" font-size="16.20" fill="#0000C2" stroke-width="0.20"><tspan x="319.00" textLength="25.88" lengthAdjust="spacingAndGlyphs" style="letter-spacing:1.63px">the</tspan> <tspan x="352.65" textLength="79.22" lengthAdjust="spacingAndGlyphs" style="letter-spacing:1.99px">frequency</tspan> <tspan x="440.08" textLength="15.78" lengthAdjust="spacingAndGlyphs" style="letter-spacing:0.94px">of</tspan> <tspan x="463.83" textLength="25.88" lengthAdjust="spacingAndGlyphs" style="letter-spacing:1.63px">the</tspan> <tspan x="498.32" textLength="44.07" lengthAdjust="spacingAndGlyphs" style="letter-spacing:2.32px">pump</tspan> <tspan x="550.57" textLength="75.08" lengthAdjust="spacingAndGlyphs" style="letter-spacing:1.87px">switching</tspan> <tspan x="634.18" textLength="19.64" lengthAdjust="spacingAndGlyphs" style="letter-spacing:2.23px">on</tspan><tspan x="654.37" textLength="8.55" lengthAdjust="spacingAndGlyphs" stroke-width="0.48" style="letter-spacing:0.00px">/</tspan><tspan x="665.08" textLength="22.10" lengthAdjust="spacingAndGlyphs" style="letter-spacing:1.01px">off</tspan><tspan x="687.25" textLength="3.83" lengthAdjust="spacingAndGlyphs" style="letter-spacing:0.00px">.</tspan></text>
<text y="612.10" font-size="16.20" fill="#0000C2" stroke-width="0.20"><tspan x="319.42" textLength="28.01" lengthAdjust="spacingAndGlyphs" style="letter-spacing:1.97px">The</tspan> <tspan x="355.68" textLength="8.92" lengthAdjust="spacingAndGlyphs" style="letter-spacing:0.00px">9</tspan><tspan x="365.98" textLength="3.83" lengthAdjust="spacingAndGlyphs" style="letter-spacing:0.00px">.</tspan><tspan x="370.82" textLength="19.03" lengthAdjust="spacingAndGlyphs" style="letter-spacing:1.81px">1v</tspan> <tspan x="397.74" textLength="45.07" lengthAdjust="spacingAndGlyphs" style="letter-spacing:1.84px">zener</tspan> <tspan x="450.48" textLength="77.45" lengthAdjust="spacingAndGlyphs" style="letter-spacing:1.98px">combined</tspan> <tspan x="536.99" textLength="31.39" lengthAdjust="spacingAndGlyphs" style="letter-spacing:1.50px">with</tspan> <tspan x="577.38" textLength="32.21" lengthAdjust="spacingAndGlyphs" style="letter-spacing:1.78px">less</tspan> <tspan x="618.03" textLength="106.24" lengthAdjust="spacingAndGlyphs" style="letter-spacing:1.50px">amplification</tspan> <tspan x="732.54" textLength="85.03" lengthAdjust="spacingAndGlyphs" style="letter-spacing:1.75px">introduces</tspan> <tspan x="826.26" textLength="42.39" lengthAdjust="spacingAndGlyphs" style="letter-spacing:2.18px">some</tspan> <tspan x="876.74" textLength="39.18" lengthAdjust="spacingAndGlyphs" style="letter-spacing:2.06px">good</tspan> <tspan x="924.45" textLength="80.85" lengthAdjust="spacingAndGlyphs" style="letter-spacing:1.79px">hysteresis</tspan></text>
<text y="629.10" font-size="16.20" fill="#0000C2" stroke-width="0.20"><tspan x="319.83" textLength="4.59" lengthAdjust="spacingAndGlyphs" style="letter-spacing:0.00px">(</tspan><tspan x="327.31" textLength="30.01" lengthAdjust="spacingAndGlyphs" style="letter-spacing:3.16px">and</tspan> <tspan x="365.06" textLength="66.84" lengthAdjust="spacingAndGlyphs" style="letter-spacing:2.35px">depends</tspan> <tspan x="440.05" textLength="19.64" lengthAdjust="spacingAndGlyphs" style="letter-spacing:2.23px">on</tspan> <tspan x="467.30" textLength="25.88" lengthAdjust="spacingAndGlyphs" style="letter-spacing:1.63px">the</tspan> <tspan x="500.93" textLength="40.43" lengthAdjust="spacingAndGlyphs" style="letter-spacing:1.75px">temp</tspan><tspan x="541.96" textLength="8.55" lengthAdjust="spacingAndGlyphs" stroke-width="0.48" style="letter-spacing:0.00px">/</tspan><tspan x="552.81" textLength="43.14" lengthAdjust="spacingAndGlyphs" style="letter-spacing:2.32px">ohms</tspan> <tspan x="604.21" textLength="43.16" lengthAdjust="spacingAndGlyphs" style="letter-spacing:1.77px">slope</tspan> <tspan x="655.64" textLength="15.78" lengthAdjust="spacingAndGlyphs" style="letter-spacing:0.94px">of</tspan> <tspan x="679.39" textLength="25.88" lengthAdjust="spacingAndGlyphs" style="letter-spacing:1.63px">the</tspan> <tspan x="713.67" textLength="43.91" lengthAdjust="spacingAndGlyphs" style="letter-spacing:1.82px">diode</tspan> <tspan x="766.14" textLength="61.86" lengthAdjust="spacingAndGlyphs" style="letter-spacing:2.16px">sensors</tspan><tspan x="829.10" textLength="4.59" lengthAdjust="spacingAndGlyphs" style="letter-spacing:0.00px">)</tspan><tspan x="835.04" textLength="3.83" lengthAdjust="spacingAndGlyphs" style="letter-spacing:0.00px">,</tspan> <tspan x="848.91" textLength="18.51" lengthAdjust="spacingAndGlyphs" style="letter-spacing:2.17px">so</tspan> <tspan x="874.92" textLength="25.88" lengthAdjust="spacingAndGlyphs" style="letter-spacing:1.63px">the</tspan> <tspan x="909.41" textLength="44.07" lengthAdjust="spacingAndGlyphs" style="letter-spacing:2.32px">pump</tspan> <tspan x="961.02" textLength="14.09" lengthAdjust="spacingAndGlyphs" style="letter-spacing:1.56px">is</tspan> <tspan x="983.77" textLength="25.99" lengthAdjust="spacingAndGlyphs" style="letter-spacing:1.45px">not</tspan> <tspan x="1017.29" textLength="46.71" lengthAdjust="spacingAndGlyphs" style="letter-spacing:0.84px">jittery</tspan> <tspan x="1073.20" textLength="19.64" lengthAdjust="spacingAndGlyphs" style="letter-spacing:2.23px">on</tspan><tspan x="1093.38" textLength="8.55" lengthAdjust="spacingAndGlyphs" stroke-width="0.48" style="letter-spacing:0.00px">/</tspan><tspan x="1104.10" textLength="22.10" lengthAdjust="spacingAndGlyphs" style="letter-spacing:1.01px">off</tspan><tspan x="1126.27" textLength="3.83" lengthAdjust="spacingAndGlyphs" style="letter-spacing:0.00px">.</tspan></text>
<text y="671.10" font-size="16.20" fill="#0000C2" stroke-width="0.20"><tspan x="52.09" textLength="20.69" lengthAdjust="spacingAndGlyphs" style="letter-spacing:1.15px">R2</tspan> <tspan x="81.22" textLength="14.09" lengthAdjust="spacingAndGlyphs" style="letter-spacing:1.56px">is</tspan> <tspan x="103.21" textLength="23.84" lengthAdjust="spacingAndGlyphs" style="letter-spacing:1.38px">for</tspan> <tspan x="134.27" textLength="30.86" lengthAdjust="spacingAndGlyphs" style="letter-spacing:1.35px">fine</tspan> <tspan x="173.89" textLength="54.52" lengthAdjust="spacingAndGlyphs" style="letter-spacing:1.22px">setting</tspan> <tspan x="236.69" textLength="25.88" lengthAdjust="spacingAndGlyphs" style="letter-spacing:1.63px">the</tspan> <tspan x="270.21" textLength="48.53" lengthAdjust="spacingAndGlyphs" style="letter-spacing:1.41px">TL081</tspan> <tspan x="326.95" textLength="49.85" lengthAdjust="spacingAndGlyphs" style="letter-spacing:1.70px">inputs</tspan> <tspan x="384.60" textLength="16.17" lengthAdjust="spacingAndGlyphs" style="letter-spacing:1.03px">to</tspan> <tspan x="409.66" textLength="18.62" lengthAdjust="spacingAndGlyphs" style="letter-spacing:2.12px">0v</tspan> <tspan x="436.46" textLength="80.96" lengthAdjust="spacingAndGlyphs" style="letter-spacing:1.45px">difference</tspan><tspan x="517.52" textLength="3.83" lengthAdjust="spacingAndGlyphs" style="letter-spacing:0.00px">,</tspan> <tspan x="531.80" textLength="39.94" lengthAdjust="spacingAndGlyphs" style="letter-spacing:2.85px">when</tspan> <tspan x="579.13" textLength="25.88" lengthAdjust="spacingAndGlyphs" style="letter-spacing:1.63px">the</tspan> <tspan x="612.77" textLength="28.42" lengthAdjust="spacingAndGlyphs" style="letter-spacing:2.43px">two</tspan> <tspan x="649.11" textLength="52.64" lengthAdjust="spacingAndGlyphs" style="letter-spacing:1.94px">diodes</tspan> <tspan x="710.17" textLength="26.20" lengthAdjust="spacingAndGlyphs" style="letter-spacing:2.48px">are</tspan> <tspan x="744.24" textLength="17.08" lengthAdjust="spacingAndGlyphs" style="letter-spacing:2.35px">at</tspan> <tspan x="768.15" textLength="71.60" lengthAdjust="spacingAndGlyphs" style="letter-spacing:1.65px">identical</tspan> <tspan x="846.57" textLength="98.36" lengthAdjust="spacingAndGlyphs" style="letter-spacing:1.75px">temperature</tspan><tspan x="944.79" textLength="3.83" lengthAdjust="spacingAndGlyphs" style="letter-spacing:0.00px">.</tspan></text>
<text y="688.10" font-size="16.20" fill="#0000C2" stroke-width="0.20"><tspan x="52.22" textLength="21.19" lengthAdjust="spacingAndGlyphs" style="letter-spacing:2.01px">R8</tspan> <tspan x="81.29" textLength="14.09" lengthAdjust="spacingAndGlyphs" style="letter-spacing:1.56px">is</tspan> <tspan x="103.98" textLength="54.06" lengthAdjust="spacingAndGlyphs" style="letter-spacing:2.32px">coarse</tspan> <tspan x="166.01" textLength="89.99" lengthAdjust="spacingAndGlyphs" style="letter-spacing:1.81px">adjustment</tspan><tspan x="255.33" textLength="3.83" lengthAdjust="spacingAndGlyphs" style="letter-spacing:0.00px">.</tspan> <tspan x="268.90" textLength="41.52" lengthAdjust="spacingAndGlyphs" style="letter-spacing:1.84px">Later</tspan><tspan x="309.64" textLength="3.83" lengthAdjust="spacingAndGlyphs" style="letter-spacing:0.00px">,</tspan> <tspan x="323.28" textLength="73.14" lengthAdjust="spacingAndGlyphs" style="letter-spacing:1.74px">deviation</tspan> <tspan x="404.36" textLength="37.46" lengthAdjust="spacingAndGlyphs" style="letter-spacing:1.37px">from</tspan> <tspan x="450.10" textLength="71.60" lengthAdjust="spacingAndGlyphs" style="letter-spacing:1.65px">identical</tspan> <tspan x="528.52" textLength="107.05" lengthAdjust="spacingAndGlyphs" style="letter-spacing:1.81px">temperatures</tspan><tspan x="635.53" textLength="3.83" lengthAdjust="spacingAndGlyphs" style="letter-spacing:0.00px">,</tspan> <tspan x="649.81" textLength="46.11" lengthAdjust="spacingAndGlyphs" style="letter-spacing:2.37px">where</tspan> <tspan x="704.17" textLength="24.17" lengthAdjust="spacingAndGlyphs" style="letter-spacing:1.51px">pin</tspan> <tspan x="736.56" textLength="9.30" lengthAdjust="spacingAndGlyphs" style="letter-spacing:0.00px">3</tspan> <tspan x="755.31" textLength="14.09" lengthAdjust="spacingAndGlyphs" style="letter-spacing:1.56px">is</tspan> <tspan x="778.09" textLength="51.25" lengthAdjust="spacingAndGlyphs" style="letter-spacing:1.91px">higher</tspan> <tspan x="836.99" textLength="58.86" lengthAdjust="spacingAndGlyphs" style="letter-spacing:1.79px">voltage</tspan> <tspan x="903.55" textLength="36.51" lengthAdjust="spacingAndGlyphs" style="letter-spacing:2.35px">than</tspan> <tspan x="948.32" textLength="24.17" lengthAdjust="spacingAndGlyphs" style="letter-spacing:1.51px">pin</tspan> <tspan x="980.59" textLength="9.46" lengthAdjust="spacingAndGlyphs" style="letter-spacing:0.00px">2</tspan><tspan x="991.42" textLength="3.83" lengthAdjust="spacingAndGlyphs" style="letter-spacing:0.00px">,</tspan></text>
<text y="706.10" font-size="16.20" fill="#0000C2" stroke-width="0.20"><tspan x="52.25" textLength="25.88" lengthAdjust="spacingAndGlyphs" style="letter-spacing:1.63px">the</tspan> <tspan x="86.55" textLength="19.85" lengthAdjust="spacingAndGlyphs" style="letter-spacing:2.21px">op</tspan> <tspan x="114.49" textLength="34.98" lengthAdjust="spacingAndGlyphs" style="letter-spacing:3.06px">amp</tspan> <tspan x="156.85" textLength="60.22" lengthAdjust="spacingAndGlyphs" style="letter-spacing:1.55px">outputs</tspan> <tspan x="225.67" textLength="58.55" lengthAdjust="spacingAndGlyphs" style="letter-spacing:1.83px">greater</tspan> <tspan x="291.25" textLength="36.51" lengthAdjust="spacingAndGlyphs" style="letter-spacing:2.35px">than</tspan> <tspan x="335.93" textLength="18.62" lengthAdjust="spacingAndGlyphs" style="letter-spacing:2.12px">0v</tspan><tspan x="354.29" textLength="3.83" lengthAdjust="spacingAndGlyphs" style="letter-spacing:0.00px">.</tspan> <tspan x="367.91" textLength="44.94" lengthAdjust="spacingAndGlyphs" style="letter-spacing:1.88px">Diode</tspan> <tspan x="421.16" textLength="20.79" lengthAdjust="spacingAndGlyphs" style="letter-spacing:1.31px">D1</tspan> <tspan x="450.82" textLength="39.72" lengthAdjust="spacingAndGlyphs" style="letter-spacing:1.85px">must</tspan> <tspan x="498.53" textLength="18.96" lengthAdjust="spacingAndGlyphs" style="letter-spacing:2.11px">be</tspan> <tspan x="525.82" textLength="51.25" lengthAdjust="spacingAndGlyphs" style="letter-spacing:1.91px">higher</tspan> <tspan x="584.03" textLength="98.36" lengthAdjust="spacingAndGlyphs" style="letter-spacing:1.75px">temperature</tspan> <tspan x="690.08" textLength="36.51" lengthAdjust="spacingAndGlyphs" style="letter-spacing:2.35px">than</tspan> <tspan x="734.62" textLength="20.67" lengthAdjust="spacingAndGlyphs" style="letter-spacing:1.12px">D2</tspan> <tspan x="763.48" textLength="16.17" lengthAdjust="spacingAndGlyphs" style="letter-spacing:1.03px">to</tspan> <tspan x="788.70" textLength="50.26" lengthAdjust="spacingAndGlyphs" style="letter-spacing:1.92px">switch</tspan> <tspan x="847.48" textLength="22.75" lengthAdjust="spacingAndGlyphs" style="letter-spacing:2.36px">ON</tspan> <tspan x="877.83" textLength="25.88" lengthAdjust="spacingAndGlyphs" style="letter-spacing:1.63px">the</tspan> <tspan x="912.32" textLength="44.07" lengthAdjust="spacingAndGlyphs" style="letter-spacing:2.32px">pump</tspan><tspan x="955.89" textLength="3.83" lengthAdjust="spacingAndGlyphs" style="letter-spacing:0.00px">.</tspan></text>
<text y="741.10" font-size="16.20" fill="#0000C2" stroke-width="0.20"><tspan x="52.06" textLength="85.12" lengthAdjust="spacingAndGlyphs" style="letter-spacing:1.85px">Apparently</tspan><tspan x="137.15" textLength="3.83" lengthAdjust="spacingAndGlyphs" style="letter-spacing:0.00px">,</tspan> <tspan x="150.99" textLength="58.15" lengthAdjust="spacingAndGlyphs" style="letter-spacing:1.88px">reverse</tspan> <tspan x="217.48" textLength="58.31" lengthAdjust="spacingAndGlyphs" style="letter-spacing:1.62px">current</tspan><tspan x="275.26" textLength="3.83" lengthAdjust="spacingAndGlyphs" style="letter-spacing:0.00px">,</tspan> <tspan x="289.01" textLength="57.32" lengthAdjust="spacingAndGlyphs" style="letter-spacing:1.44px">rotated</tspan> <tspan x="355.12" textLength="43.91" lengthAdjust="spacingAndGlyphs" style="letter-spacing:1.82px">diode</tspan><tspan x="398.89" textLength="3.83" lengthAdjust="spacingAndGlyphs" style="letter-spacing:0.00px">,</tspan> <tspan x="413.17" textLength="45.82" lengthAdjust="spacingAndGlyphs" style="letter-spacing:2.16px">would</tspan> <tspan x="468.01" textLength="35.67" lengthAdjust="spacingAndGlyphs" style="letter-spacing:2.40px">work</tspan> <tspan x="511.92" textLength="14.97" lengthAdjust="spacingAndGlyphs" style="letter-spacing:1.39px">in</tspan> <tspan x="535.75" textLength="6.85" lengthAdjust="spacingAndGlyphs" style="letter-spacing:0.00px">a</tspan> <tspan x="553.86" textLength="51.25" lengthAdjust="spacingAndGlyphs" style="letter-spacing:1.91px">higher</tspan> <tspan x="612.89" textLength="83.12" lengthAdjust="spacingAndGlyphs" style="letter-spacing:1.90px">resistance</tspan> <tspan x="704.24" textLength="107.28" lengthAdjust="spacingAndGlyphs" style="letter-spacing:1.60px">configuration</tspan><tspan x="811.68" textLength="3.83" lengthAdjust="spacingAndGlyphs" style="letter-spacing:0.00px">,</tspan> <tspan x="824.65" textLength="26.23" lengthAdjust="spacingAndGlyphs" style="letter-spacing:1.39px">too</tspan><tspan x="851.00" textLength="3.83" lengthAdjust="spacingAndGlyphs" style="letter-spacing:0.00px">,</tspan></text>
<text y="758.10" font-size="16.20" fill="#0000C2" stroke-width="0.20"><tspan x="52.85" textLength="58.10" lengthAdjust="spacingAndGlyphs" style="letter-spacing:1.59px">without</tspan> <tspan x="118.90" textLength="20.81" lengthAdjust="spacingAndGlyphs" style="letter-spacing:1.34px">R1</tspan> <tspan x="148.49" textLength="30.01" lengthAdjust="spacingAndGlyphs" style="letter-spacing:3.16px">and</tspan> <tspan x="186.19" textLength="20.76" lengthAdjust="spacingAndGlyphs" style="letter-spacing:1.73px">R4</tspan><tspan x="207.21" textLength="3.83" lengthAdjust="spacingAndGlyphs" style="letter-spacing:0.00px">;</tspan> <tspan x="221.04" textLength="33.33" lengthAdjust="spacingAndGlyphs" style="letter-spacing:2.07px">meg</tspan> <tspan x="262.77" textLength="43.14" lengthAdjust="spacingAndGlyphs" style="letter-spacing:2.32px">ohms</tspan> <tspan x="313.29" textLength="23.84" lengthAdjust="spacingAndGlyphs" style="letter-spacing:1.38px">for</tspan> <tspan x="344.96" textLength="20.77" lengthAdjust="spacingAndGlyphs" style="letter-spacing:1.40px">R3</tspan> <tspan x="374.49" textLength="21.21" lengthAdjust="spacingAndGlyphs" style="letter-spacing:2.08px">R5</tspan> <tspan x="403.98" textLength="3.43" lengthAdjust="spacingAndGlyphs" style="letter-spacing:0.00px">I</tspan> <tspan x="416.77" textLength="39.67" lengthAdjust="spacingAndGlyphs" style="letter-spacing:1.66px">think</tspan><tspan x="457.06" textLength="3.83" lengthAdjust="spacingAndGlyphs" style="letter-spacing:0.00px">.</tspan> <tspan x="470.57" textLength="27.26" lengthAdjust="spacingAndGlyphs" style="letter-spacing:1.51px">But</tspan> <tspan x="505.21" textLength="33.27" lengthAdjust="spacingAndGlyphs" style="letter-spacing:1.76px">that</tspan> <tspan x="546.34" textLength="34.28" lengthAdjust="spacingAndGlyphs" style="letter-spacing:1.82px">high</tspan> <tspan x="588.83" textLength="87.54" lengthAdjust="spacingAndGlyphs" style="letter-spacing:2.32px">impedance</tspan> <tspan x="684.98" textLength="45.82" lengthAdjust="spacingAndGlyphs" style="letter-spacing:2.16px">would</tspan> <tspan x="739.42" textLength="18.96" lengthAdjust="spacingAndGlyphs" style="letter-spacing:2.11px">be</tspan></text>
<text y="776.10" font-size="16.20" fill="#0000C2" stroke-width="0.20"><tspan x="52.48" textLength="29.59" lengthAdjust="spacingAndGlyphs" style="letter-spacing:2.86px">bad</tspan> <tspan x="89.30" textLength="23.84" lengthAdjust="spacingAndGlyphs" style="letter-spacing:1.38px">for</tspan> <tspan x="121.11" textLength="6.85" lengthAdjust="spacingAndGlyphs" style="letter-spacing:0.00px">a</tspan> <tspan x="139.21" textLength="34.67" lengthAdjust="spacingAndGlyphs" style="letter-spacing:1.58px">long</tspan> <tspan x="183.20" textLength="31.82" lengthAdjust="spacingAndGlyphs" style="letter-spacing:1.88px">wire</tspan> <tspan x="223.66" textLength="19.84" lengthAdjust="spacingAndGlyphs" style="letter-spacing:2.54px">up</tspan> <tspan x="250.67" textLength="16.17" lengthAdjust="spacingAndGlyphs" style="letter-spacing:1.03px">to</tspan> <tspan x="275.78" textLength="6.85" lengthAdjust="spacingAndGlyphs" style="letter-spacing:0.00px">a</tspan> <tspan x="293.84" textLength="32.40" lengthAdjust="spacingAndGlyphs" style="letter-spacing:1.20px">roof</tspan> <tspan x="334.91" textLength="66.35" lengthAdjust="spacingAndGlyphs" style="letter-spacing:2.56px">because</tspan> <tspan x="408.59" textLength="12.99" lengthAdjust="spacingAndGlyphs" style="letter-spacing:2.14px">it</tspan> <tspan x="429.43" textLength="45.82" lengthAdjust="spacingAndGlyphs" style="letter-spacing:2.16px">would</tspan> <tspan x="483.82" textLength="32.17" lengthAdjust="spacingAndGlyphs" style="letter-spacing:1.83px">pick</tspan> <tspan x="525.24" textLength="19.84" lengthAdjust="spacingAndGlyphs" style="letter-spacing:2.54px">up</tspan> <tspan x="553.09" textLength="41.20" lengthAdjust="spacingAndGlyphs" style="letter-spacing:1.87px">radio</tspan> <tspan x="602.81" textLength="57.73" lengthAdjust="spacingAndGlyphs" style="letter-spacing:2.06px">signals</tspan><tspan x="660.34" textLength="3.83" lengthAdjust="spacingAndGlyphs" style="letter-spacing:0.00px">.</tspan></text>
<text y="347.00" font-size="13.40" fill="#008484" stroke-width="0.00"><tspan x="73.76" textLength="16.33" lengthAdjust="spacingAndGlyphs" style="letter-spacing:0.96px">D1</tspan></text>
<text y="364.00" font-size="13.40" fill="#008484" stroke-width="0.00"><tspan x="73.95" textLength="49.73" lengthAdjust="spacingAndGlyphs" style="letter-spacing:1.12px">1N4148</tspan></text>
<text y="347.00" font-size="13.40" fill="#008484" stroke-width="0.00"><tspan x="177.25" textLength="16.24" lengthAdjust="spacingAndGlyphs" style="letter-spacing:0.81px">D2</tspan></text>
<text y="364.00" font-size="13.40" fill="#008484" stroke-width="0.00"><tspan x="177.45" textLength="49.73" lengthAdjust="spacingAndGlyphs" style="letter-spacing:1.12px">1N4148</tspan></text>
<text y="415.00" font-size="13.40" fill="#008484" stroke-width="0.00"><tspan x="63.60" textLength="17.60" lengthAdjust="spacingAndGlyphs" style="letter-spacing:1.10px">R1</tspan></text>
<text y="433.00" font-size="13.40" fill="#008484" stroke-width="0.00"><tspan x="63.99" textLength="16.75" lengthAdjust="spacingAndGlyphs" style="letter-spacing:1.12px">2K</tspan></text>
<text y="415.00" font-size="13.40" fill="#008484" stroke-width="0.00"><tspan x="167.23" textLength="17.56" lengthAdjust="spacingAndGlyphs" style="letter-spacing:1.42px">R4</tspan></text>
<text y="433.00" font-size="13.40" fill="#008484" stroke-width="0.00"><tspan x="167.59" textLength="16.75" lengthAdjust="spacingAndGlyphs" style="letter-spacing:1.12px">2K</tspan></text>
<text y="493.00" font-size="13.40" fill="#008484" stroke-width="0.00"><tspan x="73.44" textLength="17.92" lengthAdjust="spacingAndGlyphs" style="letter-spacing:1.64px">R8</tspan></text>
<text y="510.00" font-size="13.40" fill="#008484" stroke-width="0.00"><tspan x="73.90" textLength="24.92" lengthAdjust="spacingAndGlyphs" style="letter-spacing:1.41px">500</tspan></text>
<text y="561.00" font-size="13.40" fill="#008484" stroke-width="0.00"><tspan x="63.61" textLength="17.57" lengthAdjust="spacingAndGlyphs" style="letter-spacing:1.15px">R3</tspan></text>
<text y="579.00" font-size="13.40" fill="#008484" stroke-width="0.00"><tspan x="63.59" textLength="7.65" lengthAdjust="spacingAndGlyphs" style="letter-spacing:0.00px">2</tspan><tspan x="72.11" textLength="3.16" lengthAdjust="spacingAndGlyphs" style="letter-spacing:0.00px">.</tspan><tspan x="75.82" textLength="16.97" lengthAdjust="spacingAndGlyphs" style="letter-spacing:1.14px">2K</tspan></text>
<text y="561.00" font-size="13.40" fill="#008484" stroke-width="0.00"><tspan x="167.24" textLength="17.94" lengthAdjust="spacingAndGlyphs" style="letter-spacing:1.70px">R5</tspan></text>
<text y="579.00" font-size="13.40" fill="#008484" stroke-width="0.00"><tspan x="167.09" textLength="7.65" lengthAdjust="spacingAndGlyphs" style="letter-spacing:0.00px">2</tspan><tspan x="175.61" textLength="3.16" lengthAdjust="spacingAndGlyphs" style="letter-spacing:0.00px">.</tspan><tspan x="179.30" textLength="16.64" lengthAdjust="spacingAndGlyphs" style="letter-spacing:0.72px">7K</tspan></text>
<text y="490.00" font-size="13.40" fill="#008484" stroke-width="0.00"><tspan x="290.50" textLength="38.02" lengthAdjust="spacingAndGlyphs" style="letter-spacing:1.05px">TL081</tspan></text>
<text y="507.00" font-size="13.40" fill="#008484" stroke-width="0.00"><tspan x="300.43" textLength="18.24" lengthAdjust="spacingAndGlyphs" style="letter-spacing:1.11px">U1</tspan></text>
<text y="544.00" font-size="13.40" fill="#008484" stroke-width="0.00"><tspan x="266.50" textLength="17.25" lengthAdjust="spacingAndGlyphs" style="letter-spacing:0.93px">R2</tspan></text>
<text y="562.00" font-size="13.40" fill="#008484" stroke-width="0.00"><tspan x="258.63" textLength="33.27" lengthAdjust="spacingAndGlyphs" style="letter-spacing:1.34px">100K</tspan></text>
<text y="441.00" font-size="13.40" fill="#008484" stroke-width="0.00"><tspan x="400.75" textLength="17.46" lengthAdjust="spacingAndGlyphs" style="letter-spacing:1.49px">R6</tspan></text>
<text y="459.00" font-size="13.40" fill="#008484" stroke-width="0.00"><tspan x="400.93" textLength="33.27" lengthAdjust="spacingAndGlyphs" style="letter-spacing:1.34px">100K</tspan></text>
<text y="439.00" font-size="13.40" fill="#008484" stroke-width="0.00"><tspan x="464.90" textLength="17.67" lengthAdjust="spacingAndGlyphs" style="letter-spacing:1.14px">D3</tspan></text>
<text y="440.00" font-size="13.40" fill="#008484" stroke-width="0.00"><tspan x="533.59" textLength="17.15" lengthAdjust="spacingAndGlyphs" style="letter-spacing:0.79px">R7</tspan></text>
<text y="458.00" font-size="13.40" fill="#008484" stroke-width="0.00"><tspan x="530.32" textLength="24.48" lengthAdjust="spacingAndGlyphs" style="letter-spacing:1.17px">390</tspan></text>
<text y="490.00" font-size="13.40" fill="#008484" stroke-width="0.00"><tspan x="438.31" textLength="7.06" lengthAdjust="spacingAndGlyphs" style="letter-spacing:0.00px">9</tspan><tspan x="446.33" textLength="3.16" lengthAdjust="spacingAndGlyphs" style="letter-spacing:0.00px">.</tspan><tspan x="450.16" textLength="14.91" lengthAdjust="spacingAndGlyphs" style="letter-spacing:1.38px">1v</tspan><tspan x="465.05" textLength="7.53" lengthAdjust="spacingAndGlyphs" style="letter-spacing:0.00px">_</tspan><tspan x="473.39" textLength="36.48" lengthAdjust="spacingAndGlyphs" style="letter-spacing:1.50px">Zener</tspan></text>
<text y="467.00" font-size="13.40" fill="#008484" stroke-width="0.00"><tspan x="671.05" textLength="17.46" lengthAdjust="spacingAndGlyphs" style="letter-spacing:1.08px">Q1</tspan></text>
<text y="485.00" font-size="13.40" fill="#008484" stroke-width="0.00"><tspan x="670.96" textLength="49.85" lengthAdjust="spacingAndGlyphs" style="letter-spacing:1.07px">2N5961</tspan></text>
<text y="370.00" font-size="13.40" fill="#008484" stroke-width="0.00"><tspan x="792.91" textLength="16.37" lengthAdjust="spacingAndGlyphs" style="letter-spacing:0.87px">K1</tspan></text>
<text y="388.00" font-size="13.40" fill="#008484" stroke-width="0.00"><tspan x="749.76" textLength="35.56" lengthAdjust="spacingAndGlyphs" style="letter-spacing:1.39px">10mA</tspan> <tspan x="791.05" textLength="22.79" lengthAdjust="spacingAndGlyphs" style="letter-spacing:1.02px">11v</tspan> <tspan x="820.82" textLength="30.98" lengthAdjust="spacingAndGlyphs" style="letter-spacing:1.44px">relay</tspan></text>
<text y="397.00" font-size="13.40" fill="#008484" stroke-width="0.00"><tspan x="878.74" textLength="17.67" lengthAdjust="spacingAndGlyphs" style="letter-spacing:1.56px">R9</tspan></text>
<text y="415.00" font-size="13.40" fill="#008484" stroke-width="0.00"><tspan x="874.41" textLength="24.83" lengthAdjust="spacingAndGlyphs" style="letter-spacing:1.19px">390</tspan></text>
<text y="431.00" font-size="13.40" fill="#008484" stroke-width="0.00"><tspan x="973.66" textLength="17.04" lengthAdjust="spacingAndGlyphs" style="letter-spacing:1.35px">D4</tspan></text>
<text y="449.00" font-size="13.40" fill="#008484" stroke-width="0.00"><tspan x="963.47" textLength="37.60" lengthAdjust="spacingAndGlyphs" style="letter-spacing:1.82px">DIODE</tspan></text>
<text y="492.00" font-size="13.40" fill="#008484" stroke-width="0.00"><tspan x="982.55" textLength="15.54" lengthAdjust="spacingAndGlyphs" style="letter-spacing:0.70px">L1</tspan></text>
<text y="550.00" font-size="13.40" fill="#008484" stroke-width="0.00"><tspan x="881.82" textLength="33.89" lengthAdjust="spacingAndGlyphs" style="letter-spacing:1.58px">Solar</tspan> <tspan x="921.61" textLength="35.40" lengthAdjust="spacingAndGlyphs" style="letter-spacing:1.67px">Water</tspan> <tspan x="962.88" textLength="35.50" lengthAdjust="spacingAndGlyphs" style="letter-spacing:1.75px">Pump</tspan> <tspan x="1004.20" textLength="10.21" lengthAdjust="spacingAndGlyphs" style="letter-spacing:0.00px">-</tspan> <tspan x="1021.31" textLength="15.72" lengthAdjust="spacingAndGlyphs" style="letter-spacing:0.99px">1A</tspan> <tspan x="1043.08" textLength="16.59" lengthAdjust="spacingAndGlyphs" style="letter-spacing:1.13px">15</tspan> <tspan x="1066.78" textLength="32.60" lengthAdjust="spacingAndGlyphs" style="letter-spacing:1.43px">watts</tspan></text>
<text y="268.00" font-size="13.40" fill="#008484" stroke-width="0.00"><tspan x="1051.84" textLength="9.00" lengthAdjust="spacingAndGlyphs" style="letter-spacing:0.00px">+</tspan><tspan x="1061.83" textLength="24.07" lengthAdjust="spacingAndGlyphs" style="letter-spacing:1.19px">15V</tspan></text>
<text y="710.00" font-size="13.40" fill="#008484" stroke-width="0.00"><tspan x="1055.38" textLength="26.96" lengthAdjust="spacingAndGlyphs" style="letter-spacing:1.76px">GND</tspan></text>
<text y="449.00" font-size="13.40" fill="#840000" stroke-width="0.00"><tspan x="201.70" textLength="7.24" lengthAdjust="spacingAndGlyphs" style="letter-spacing:0.00px">3</tspan></text>
<text y="484.00" font-size="13.40" fill="#840000" stroke-width="0.00"><tspan x="201.52" textLength="7.54" lengthAdjust="spacingAndGlyphs" style="letter-spacing:0.00px">2</tspan></text>
<text y="467.00" font-size="13.40" fill="#840000" stroke-width="0.00"><tspan x="288.06" textLength="6.96" lengthAdjust="spacingAndGlyphs" style="letter-spacing:0.00px">6</tspan></text>
<text y="479.00" font-size="13.40" fill="#840000" stroke-width="0.00"><tspan x="618.42" textLength="7.54" lengthAdjust="spacingAndGlyphs" style="letter-spacing:0.00px">2</tspan></text>
<text y="424.00" font-size="13.40" fill="#840000" stroke-width="0.00"><tspan x="753.76" textLength="6.96" lengthAdjust="spacingAndGlyphs" style="letter-spacing:0.00px">6</tspan></text>
<text y="424.00" font-size="13.40" fill="#840000" stroke-width="0.00"><tspan x="839.98" textLength="7.45" lengthAdjust="spacingAndGlyphs" style="letter-spacing:0.00px">1</tspan></text>
<text y="492.00" font-size="13.40" fill="#840000" stroke-width="0.00"><tspan x="754.11" textLength="6.78" lengthAdjust="spacingAndGlyphs" style="letter-spacing:0.00px">5</tspan></text>
<text y="509.00" font-size="13.40" fill="#840000" stroke-width="0.00"><tspan x="840.00" textLength="7.24" lengthAdjust="spacingAndGlyphs" style="letter-spacing:0.00px">3</tspan></text>
<text y="467.00" font-size="13.40" fill="#840000" stroke-width="0.00"><tspan x="956.28" textLength="7.45" lengthAdjust="spacingAndGlyphs" style="letter-spacing:0.00px">1</tspan></text>
<text y="467.00" font-size="13.40" fill="#840000" stroke-width="0.00"><tspan x="999.32" textLength="7.54" lengthAdjust="spacingAndGlyphs" style="letter-spacing:0.00px">2</tspan></text>
<text y="569.00" font-size="11.50" fill="#840000" stroke-width="0.00"><tspan x="250.06" textLength="6.38" lengthAdjust="spacingAndGlyphs" style="letter-spacing:0.00px">3</tspan></text>
<text y="569.00" font-size="11.50" fill="#840000" stroke-width="0.00"><tspan x="293.90" textLength="6.58" lengthAdjust="spacingAndGlyphs" style="letter-spacing:0.00px">1</tspan></text>
</svg>
</body></html>
